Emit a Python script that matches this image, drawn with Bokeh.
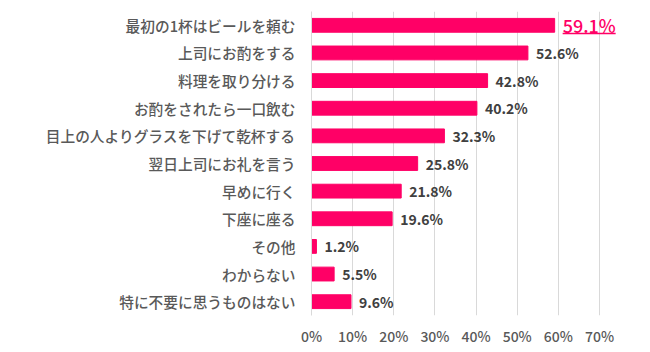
from bokeh.plotting import figure
from bokeh.models import ColumnDataSource, FixedTicker, Range1d
from bokeh.core.properties import value
from bokeh.embed import file_html
from bokeh.resources import INLINE

categories = ["最初の1杯はビールを頼む", "上司にお酌をする", "料理を取り分ける", "お酌をされたら一口飲む",
              "目上の人よりグラスを下げて乾杯する", "翌日上司にお礼を言う", "早めに行く", "下座に座る",
              "その他", "わからない", "特に不要に思うものはない"]
values = [59.1, 52.6, 42.8, 40.2, 32.3, 25.8, 21.8, 19.6, 1.2, 5.5, 9.6]
x_ticks = [0, 10, 20, 30, 40, 50, 60, 70]

n = len(categories)
ys = [n - 1 - i for i in range(n)]
labels = [f"{v:.1f}%" for v in values]

BAR = "#FF0066"
FONT = "Noto Sans CJK JP"
FONT_MED = "'Noto Sans CJK JP Medium', 'Noto Sans CJK JP'"

W, H = 650, 352
left, right, top, bottom = 311, 5, 11, 37
axis_px = 288  # pixels from 0% to 70%
upp = 70 / axis_px  # data units per pixel
frame_w = W - left - right
x_end = frame_w * upp

p = figure(width=W, height=H, output_backend="svg", toolbar_location=None,
           x_range=Range1d(0, x_end), y_range=Range1d(-0.5, n - 0.5),
           min_border_left=left, min_border_right=right, min_border_top=top, min_border_bottom=bottom)
p.outline_line_color = None
p.background_fill_color = "white"

p.hbar(y=ys, right=values, left=0, height=0.5, color=BAR)

# value labels (others)
p.text(x=values[1:], y=ys[1:], text=labels[1:], x_offset=8, text_baseline="middle",
       text_font=value(FONT), text_font_style="bold", text_font_size="14px", text_color="#404040")
# highlighted top label
p.text(x=values[:1], y=ys[:1], text=labels[:1], x_offset=8, text_baseline="middle",
       text_font=value(FONT_MED), text_font_size="18px", text_color=BAR)
x0 = values[0] + 8 * upp
p.segment(x0=[x0], x1=[x0 + 53 * upp], y0=[ys[0] - 0.3], y1=[ys[0] - 0.3], line_color=BAR, line_width=1.5)

# axes
p.xaxis.ticker = FixedTicker(ticks=x_ticks)
p.xaxis.major_label_overrides = {t: f"{t}%" for t in x_ticks}
p.xaxis.axis_line_color = None
p.xaxis.major_tick_line_color = None
p.xaxis.minor_tick_line_color = None
p.xaxis.major_tick_out = 0
p.xaxis.major_label_standoff = 10
p.xaxis.major_label_text_font = FONT_MED
p.xaxis.major_label_text_font_size = "14px"
p.xaxis.major_label_text_color = "#595959"

p.yaxis.ticker = FixedTicker(ticks=ys)
p.yaxis.major_label_overrides = {y: c for y, c in zip(ys, categories)}
p.yaxis.axis_line_color = "#D9D9D9"
p.yaxis.major_tick_line_color = None
p.yaxis.minor_tick_line_color = None
p.yaxis.major_tick_out = 0
p.yaxis.major_label_standoff = 16
p.yaxis.major_label_text_font = FONT_MED
p.yaxis.major_label_text_font_size = "14.7px"
p.yaxis.major_label_text_font_style = "normal"
p.yaxis.major_label_text_color = "#595959"

p.xgrid.ticker = FixedTicker(ticks=x_ticks)
p.xgrid.grid_line_color = "#D9D9D9"
p.ygrid.grid_line_color = None

open("out.html", "w").write(file_html(p, INLINE))
